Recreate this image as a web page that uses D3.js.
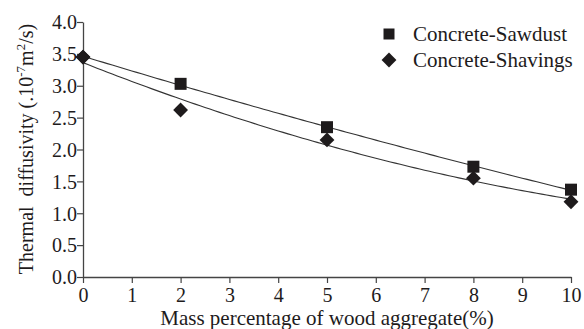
<!DOCTYPE html>
<html>
<head>
<meta charset="utf-8">
<script src="https://cdn.jsdelivr.net/npm/d3@7"></script>
<style>
  html, body { margin: 0; padding: 0; background: #fff; }
  svg text { font-family: "Liberation Serif", "Times New Roman", serif; fill: #1e1b1c; }
</style>
</head>
<body>
<svg id="chart" width="584" height="329"></svg>
<script>
// Mass percentage of wood aggregate (%)
const massPct = [0, 2, 5, 8, 10];
// Thermal diffusivity (×10^-7 m²/s)
const sawdust = [3.45, 3.03, 2.35, 1.73, 1.37];
const shavings = [3.45, 2.62, 2.15, 1.55, 1.18];
const seriesNames = ["Concrete-Sawdust", "Concrete-Shavings"];
const xTicks = [0, 1, 2, 3, 4, 5, 6, 7, 8, 9, 10];
const yTicks = [0.0, 0.5, 1.0, 1.5, 2.0, 2.5, 3.0, 3.5, 4.0];

const ink = "#1e1b1c";
const svg = d3.select("#chart");
const margin = { left: 83, right: 13, top: 22, bottom: 52 };
const W = 584, H = 329;

const x = d3.scaleLinear().domain([0, 10]).range([margin.left, W - margin.right]);
const y = d3.scaleLinear().domain([0, 4]).range([H - margin.bottom, margin.top]);

// Least-squares quadratic trend through a series
function quadFit(xs, ys) {
  const n = xs.length;
  let s = [0, 0, 0, 0, 0], t = [0, 0, 0];
  for (let i = 0; i < n; i++) {
    for (let k = 0; k < 5; k++) s[k] += Math.pow(xs[i], k);
    for (let k = 0; k < 3; k++) t[k] += ys[i] * Math.pow(xs[i], k);
  }
  const A = [[s[0], s[1], s[2], t[0]], [s[1], s[2], s[3], t[1]], [s[2], s[3], s[4], t[2]]];
  for (let c = 0; c < 3; c++) {
    for (let r = c + 1; r < 3; r++) {
      const f = A[r][c] / A[c][c];
      for (let k = c; k < 4; k++) A[r][k] -= f * A[c][k];
    }
  }
  const b = [0, 0, 0];
  for (let r = 2; r >= 0; r--) {
    let v = A[r][3];
    for (let k = r + 1; k < 3; k++) v -= A[r][k] * b[k];
    b[r] = v / A[r][r];
  }
  return xv => b[0] + b[1] * xv + b[2] * xv * xv;
}

// Axes
const xAxis = d3.axisBottom(x).tickValues(xTicks).tickFormat(d3.format("d")).tickSize(6).tickSizeOuter(0);
const yAxis = d3.axisLeft(y).tickValues(yTicks).tickFormat(d3.format(".1f")).tickSize(6).tickSizeOuter(0);

const gx = svg.append("g").attr("transform", `translate(0,${y(0)})`).call(xAxis);
const gy = svg.append("g").attr("transform", `translate(${x(0)},0)`).call(yAxis);
[gx, gy].forEach(g => {
  g.select(".domain").attr("stroke", "#444").attr("stroke-width", 1.3);
  g.selectAll(".tick line").attr("stroke", "#444").attr("stroke-width", 1.2);
  g.selectAll(".tick text").attr("font-size", 20).attr("fill", ink)
    .style("font-family", '"Liberation Serif", serif');
});
gx.selectAll(".tick text").attr("dy", "0.95em").attr("y", 6);
gy.selectAll(".tick text").attr("x", -6).attr("dy", "0.34em");

// Axis titles
svg.append("text")
  .attr("x", 327).attr("y", 325)
  .attr("text-anchor", "middle").attr("font-size", 21)
  .text("Mass percentage of wood aggregate(%)");

const yt = svg.append("text")
  .attr("transform", `translate(33,149) rotate(-90)`)
  .attr("text-anchor", "middle").attr("font-size", 20)
  .style("white-space", "pre");
yt.append("tspan").text("Thermal  diffusivity (.10");
yt.append("tspan").attr("dy", -8).attr("font-size", 13).text("-7");
yt.append("tspan").attr("dy", 8).text("m");
yt.append("tspan").attr("dy", -8).attr("font-size", 13).text("2");
yt.append("tspan").attr("dy", 8).text("/s)");

// Trend curves
const series = [sawdust, shavings];
const line = d3.line().x(d => x(d[0])).y(d => y(d[1]));
series.forEach(vals => {
  const f = quadFit(massPct, vals);
  const pts = d3.range(0, 10.0001, 0.1).map(v => [v, f(v)]);
  svg.append("path").attr("d", line(pts))
    .attr("fill", "none").attr("stroke", "#333").attr("stroke-width", 1.1);
});

// Markers: filled squares and squares turned 45° as diamonds
const sq = d3.symbol().type(d3.symbolSquare).size(144);
const dm = d3.symbol().type(d3.symbolSquare).size(110);
const diamondAt = (px, py) => `translate(${px},${py}) rotate(45)`;
svg.append("g").selectAll("path").data(massPct.map((m, i) => [m, shavings[i]])).join("path")
  .attr("d", dm).attr("transform", d => diamondAt(x(d[0]), y(d[1]))).attr("fill", ink);
svg.append("g").selectAll("path").data(massPct.map((m, i) => [m, sawdust[i]]).slice(1)).join("path")
  .attr("d", sq).attr("transform", d => `translate(${x(d[0])},${y(d[1])})`).attr("fill", ink);
// diamond stays on top at 0 where both series meet
svg.append("path").attr("d", dm).attr("transform", diamondAt(x(0), y(shavings[0]))).attr("fill", ink);

// Legend
const lg = svg.append("g");
lg.append("path").attr("d", d3.symbol().type(d3.symbolSquare).size(121))
  .attr("transform", "translate(389,34)").attr("fill", ink);
lg.append("path").attr("d", dm)
  .attr("transform", diamondAt(389, 60)).attr("fill", ink);
lg.append("text").attr("x", 413).attr("y", 41).attr("font-size", 21).text(seriesNames[0]);
lg.append("text").attr("x", 413).attr("y", 67).attr("font-size", 21).text(seriesNames[1]);
</script>
</body>
</html>
